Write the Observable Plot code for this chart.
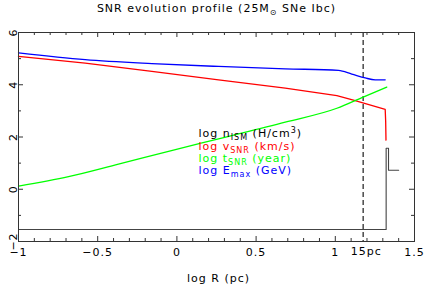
<!DOCTYPE html>
<html><head><meta charset="utf-8">
<script src="https://cdn.jsdelivr.net/npm/d3@7"></script>
<script src="https://cdn.jsdelivr.net/npm/@observablehq/plot@0.6"></script>
<style>html,body{margin:0;padding:0;background:#fff}svg{display:block}</style>
</head><body><div id="chart"></div>
<script>
// ---- text ----
const titleText = "SNR evolution profile (25M_{⊙} SNe Ibc)";
const xLabel = "log R (pc)";
const legendLabels = ["log n_{ISM} (H/cm^{3})", "log v_{SNR} (km/s)", "log t_{SNR} (year)", "log E_{max} (GeV)"];
const legendColors = ["#000000", "#ff0000", "#00ff00", "#0000ff"];

// ---- ticks ----
const xTicks = [-1, -0.5, 0, 0.5, 1, 1.5];
const xTickLabels = ["−1", "−0.5", "0", "0.5", "1", "1.5"];
const xMinorTicks = [-0.9, -0.8, -0.7, -0.6, -0.4, -0.3, -0.2, -0.1, 0.1, 0.2, 0.3, 0.4, 0.6, 0.7, 0.8, 0.9, 1.1, 1.2, 1.3, 1.4];
const yTicks = [-2, 0, 2, 4, 6];
const yTickLabels = ["−2", "0", "2", "4", "6"];
const yMinorTicks = [-1, 1, 3, 5];

// ---- marker (15 pc) ----
const markerR = [Math.log10(15)];
const markerLabel = ["15pc"];

// ---- series: log R (pc) and values ----
const nismR = [-1, 1.321, 1.321, 1.336, 1.336, 1.40];
const nismV = [-1.54, -1.54, 1.57, 1.57, 0.73, 0.73];

const vsnrR = [-1, -0.579, -0.158, 0.263, 0.684, 1.01, 1.12, 1.315, 1.318, 1.32];
const vsnrV = [5.09, 4.83, 4.51, 4.19, 3.87, 3.58, 3.40, 3.06, 2.6, 1.88];

const tsnrR = [-1, -0.684, -0.369, -0.053, 0.263, 0.684, 1.01, 1.176, 1.325];
const tsnrV = [0.115, 0.48, 0.96, 1.45, 1.93, 2.57, 3.10, 3.53, 3.91];

const emaxR = [-1, -0.579, -0.158, 0.263, 0.684, 1.02, 1.104, 1.189, 1.252, 1.315];
const emaxV = [5.22, 4.96, 4.81, 4.70, 4.61, 4.55, 4.41, 4.26, 4.19, 4.19];

// ---- layout ----
const W = 425, H = 284, mt = 32, mr = 11, mb = 43, ml = 18;
const fh = H - mt - mb, fw = W - ml - mr;
const majorLen = 5, minorLen = 3;
const axisColor = "#333";
const lw = 1.3;

const series = [
  {R: nismR, V: nismV, c: legendColors[0], curve: "linear", w: 1.1, s: "#444"},
  {R: vsnrR, V: vsnrV, c: legendColors[1], curve: "linear", w: lw},
  {R: tsnrR, V: tsnrV, c: legendColors[2], curve: "monotone-x", w: lw},
  {R: emaxR, V: emaxV, c: legendColors[3], curve: "monotone-x", w: lw}
];

const marks = [
  // ticks (inward, all four sides)
  Plot.tickX(xMinorTicks, {x: d => d, insetTop: fh - minorLen, stroke: axisColor}),
  Plot.tickX(xMinorTicks, {x: d => d, insetBottom: fh - minorLen, stroke: axisColor}),
  Plot.tickX(xTicks, {x: d => d, insetTop: fh - majorLen, stroke: axisColor}),
  Plot.tickX(xTicks, {x: d => d, insetBottom: fh - majorLen, stroke: axisColor}),
  Plot.tickY(yMinorTicks, {y: d => d, insetRight: fw - minorLen, stroke: axisColor}),
  Plot.tickY(yMinorTicks, {y: d => d, insetLeft: fw - minorLen, stroke: axisColor}),
  Plot.tickY(yTicks, {y: d => d, insetRight: fw - majorLen, stroke: axisColor}),
  Plot.tickY(yTicks, {y: d => d, insetLeft: fw - majorLen, stroke: axisColor}),
  // dashed 15 pc line
  Plot.ruleX(markerR, {x: d => d, stroke: "#555", strokeWidth: 1.6, strokeDasharray: "5,3"}),
  // series
  ...series.map(s => Plot.line(s.R, {x: s.R, y: s.V, stroke: s.s || s.c, strokeWidth: s.w, curve: s.curve})),
  Plot.frame({stroke: axisColor, strokeWidth: 1}),
  // tick labels
  Plot.text(xTicks, {x: d => d, text: (d, i) => xTickLabels[i], frameAnchor: "bottom", lineAnchor: "bottom", dy: 14, fontSize: 11, fill: "#000"}),
  Plot.text(yTicks, {y: d => d, text: (d, i) => yTickLabels[i], frameAnchor: "left", rotate: -90, textAnchor: "middle", lineAnchor: "bottom", dx: -2, fontSize: 11, fill: "#000"}),
  Plot.text(markerR, {x: d => d, text: (d, i) => markerLabel[i], frameAnchor: "bottom", lineAnchor: "bottom", dy: 13, dx: 3, fontSize: 11, fill: "#000"}),
  // axis label
  Plot.text([xLabel], {frameAnchor: "bottom", lineAnchor: "bottom", dy: 40, dx: 2, fontSize: 11, fill: "#000"}),
  // title
  Plot.text([titleText], {frameAnchor: "top", lineAnchor: "bottom", dy: -20.5, fontSize: 11, fill: "#000", className: "rich"}),
  // legend
  ...legendLabels.map((t, i) => Plot.text([t], {frameAnchor: "top-left", textAnchor: "start", lineAnchor: "bottom", dx: 180, dy: 104.7 + 12.4 * i, fontSize: 11, fill: legendColors[i], className: "rich"}))
];

const chart = Plot.plot({
  width: W, height: H,
  marginTop: mt, marginRight: mr, marginBottom: mb, marginLeft: ml,
  x: {domain: [-1, 1.5], axis: null},
  y: {domain: [-2, 6], axis: null},
  style: {fontFamily: "'DejaVu Sans', sans-serif", fontSize: "11px", letterSpacing: "1px", background: "#fff", overflow: "visible"},
  marks
});

// sub/superscript rendering for "_{...}" and "^{...}"
function richify(el) {
  const s = el.textContent;
  const parts = s.split(/([_^]\{[^}]*\})/);
  while (el.firstChild) el.removeChild(el.firstChild);
  let shift = 0;
  for (const p of parts) {
    if (!p) continue;
    let target = 0, small = false, t = p;
    if (p.startsWith("_{")) { target = 3; small = true; t = p.slice(2, -1); }
    else if (p.startsWith("^{")) { target = -4.5; small = true; t = p.slice(2, -1); }
    const ts = document.createElementNS("http://www.w3.org/2000/svg", "tspan");
    ts.setAttribute("dy", String(target - shift));
    shift = target;
    if (small) ts.setAttribute("font-size", "8px");
    ts.textContent = t;
    el.appendChild(ts);
  }
}
d3.select(chart).selectAll("g.rich text").each(function () { richify(this); });

document.getElementById("chart").appendChild(chart);
</script>
</body></html>
